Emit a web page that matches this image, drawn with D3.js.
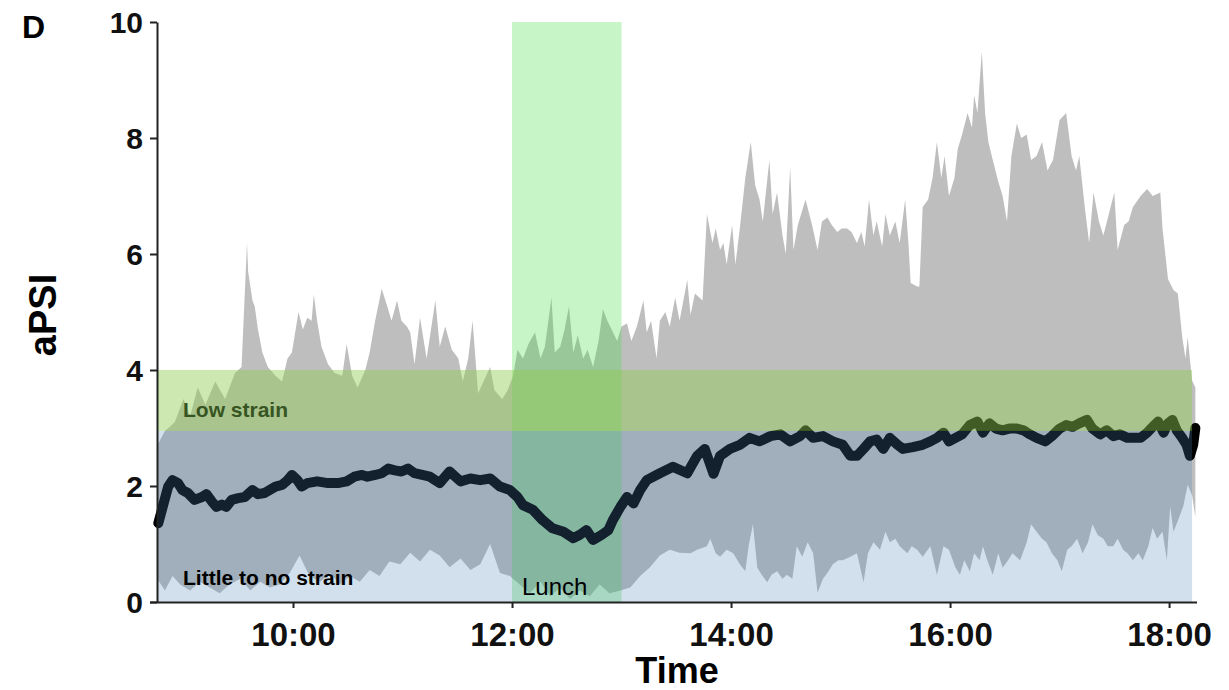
<!DOCTYPE html>
<html><head><meta charset="utf-8">
<script src="https://cdn.jsdelivr.net/npm/d3@7"></script>
<style>
html,body{margin:0;padding:0;background:#fff;}
svg text{font-family:"Liberation Sans",Arial,Helvetica,sans-serif;}
</style></head>
<body>
<svg id="chart" width="1229" height="690"></svg>
<script>
// ---- data (time in decimal hours, value in aPSI) ----
const upperT = [8.76,8.83,8.92,9.00,9.06,9.13,9.20,9.29,9.38,9.47,9.53,9.58,9.59,9.63,9.65,9.68,9.72,9.77,9.84,9.90,9.95,9.99,10.05,10.09,10.13,10.17,10.19,10.22,10.26,10.32,10.38,10.45,10.49,10.54,10.59,10.66,10.70,10.75,10.81,10.86,10.90,10.95,10.99,11.04,11.07,11.11,11.16,11.22,11.30,11.34,11.39,11.45,11.51,11.55,11.60,11.64,11.69,11.74,11.80,11.84,11.91,11.96,12.01,12.05,12.10,12.15,12.21,12.26,12.30,12.36,12.39,12.44,12.48,12.52,12.56,12.60,12.65,12.69,12.74,12.79,12.83,12.87,12.91,12.96,13.00,13.05,13.09,13.14,13.20,13.23,13.27,13.32,13.35,13.40,13.44,13.49,13.53,13.60,13.63,13.67,13.74,13.78,13.83,13.86,13.90,13.93,13.96,14.01,14.04,14.08,14.13,14.18,14.22,14.26,14.29,14.35,14.38,14.42,14.47,14.50,14.54,14.57,14.61,14.68,14.74,14.79,14.83,14.88,14.92,14.97,15.01,15.06,15.10,15.15,15.19,15.22,15.26,15.30,15.33,15.38,15.41,15.45,15.50,15.54,15.59,15.62,15.64,15.70,15.72,15.75,15.80,15.84,15.88,15.92,15.95,15.99,16.04,16.07,16.11,16.16,16.20,16.22,16.25,16.29,16.32,16.35,16.39,16.44,16.48,16.52,16.56,16.61,16.65,16.70,16.74,16.79,16.84,16.89,16.94,17.00,17.06,17.11,17.15,17.18,17.23,17.27,17.31,17.36,17.40,17.45,17.50,17.53,17.59,17.63,17.67,17.74,17.80,17.85,17.92,17.94,17.99,18.04,18.08,18.12,18.15,18.17,18.21,18.24];
const upperV = [2.7,2.95,3.1,3.5,3.2,3.7,3.4,3.8,3.5,3.95,4.05,6.19,5.7,5.2,5.1,4.7,4.3,4.05,3.9,3.8,4.2,4.3,5.0,4.7,4.9,4.85,5.3,4.85,4.4,4.1,3.95,3.9,4.45,3.9,3.7,4.0,4.3,4.85,5.4,5.1,4.85,5.2,4.85,4.75,4.65,4.1,4.9,4.2,5.2,4.4,4.75,4.35,4.2,3.8,4.2,4.85,3.6,3.8,4.05,3.65,3.5,3.65,3.9,4.35,4.2,4.45,4.65,4.2,4.4,5.25,4.3,4.4,4.7,5.1,4.3,4.6,4.2,4.35,4.05,4.5,5.05,4.85,4.7,4.5,4.75,4.8,4.5,4.75,5.2,4.65,4.85,4.2,4.85,5.0,4.75,5.25,4.85,5.55,4.95,5.32,5.2,6.69,6.19,6.44,6.07,6.19,5.82,6.5,5.82,6.44,7.31,7.93,7.19,6.94,6.56,7.62,6.69,7.06,6.32,6.0,7.5,6.07,6.5,6.94,6.5,6.07,6.56,6.63,6.5,6.38,6.44,6.44,6.38,6.19,6.38,6.13,6.94,6.32,6.56,6.13,6.69,6.32,6.56,6.19,6.94,6.19,5.5,5.44,5.44,6.81,6.94,7.31,7.93,7.31,7.69,7.0,7.31,7.81,8.06,8.43,8.18,8.74,8.43,9.49,8.43,7.93,7.62,7.25,7.0,6.56,7.69,8.25,8.0,8.06,7.62,7.69,7.93,7.44,7.62,8.31,8.43,7.69,7.44,7.69,6.81,6.19,7.06,6.56,6.32,6.69,7.06,6.07,6.5,6.56,6.81,7.0,7.12,7.0,7.06,6.44,5.57,5.38,5.32,4.57,4.2,4.57,3.82,3.7];

const lowerT = [8.76,8.83,8.90,8.97,9.06,9.15,9.24,9.33,9.42,9.52,9.61,9.70,9.79,9.88,9.97,10.06,10.15,10.25,10.34,10.43,10.52,10.61,10.70,10.79,10.88,10.98,11.07,11.16,11.25,11.34,11.43,11.53,11.62,11.71,11.80,11.89,11.98,12.07,12.16,12.26,12.35,12.44,12.53,12.62,12.71,12.80,12.89,12.99,13.08,13.17,13.26,13.35,13.44,13.53,13.63,13.69,13.78,13.81,13.86,13.90,13.96,14.02,14.08,14.13,14.16,14.20,14.24,14.28,14.33,14.37,14.42,14.47,14.51,14.56,14.60,14.65,14.70,14.75,14.79,14.84,14.89,14.93,14.98,15.02,15.09,15.15,15.21,15.25,15.30,15.36,15.41,15.45,15.50,15.54,15.61,15.65,15.70,15.75,15.82,15.88,15.94,15.99,16.05,16.09,16.13,16.18,16.22,16.27,16.30,16.34,16.39,16.44,16.48,16.53,16.57,16.64,16.70,16.74,16.79,16.84,16.88,16.93,16.98,17.02,17.07,17.11,17.16,17.21,17.26,17.30,17.35,17.40,17.44,17.49,17.53,17.58,17.62,17.67,17.72,17.76,17.81,17.85,17.89,17.94,17.98,18.01,18.04,18.08,18.13,18.17,18.21,18.24];
const lowerV = [0.4,0.2,0.45,0.3,0.2,0.35,0.25,0.15,0.3,0.4,0.2,0.35,0.25,0.3,0.5,0.8,0.45,0.35,0.5,0.3,0.45,0.35,0.55,0.45,0.7,0.65,0.85,0.7,0.9,0.8,0.6,0.75,0.55,0.65,1.0,0.5,0.45,0.3,0.15,0.35,0.1,0.25,0.05,0.2,0.1,0.3,0.15,0.2,0.25,0.45,0.6,0.8,0.9,0.85,0.84,0.9,0.96,1.09,0.84,0.78,0.9,0.84,0.65,0.53,0.96,1.34,0.59,0.47,0.34,0.47,0.53,0.4,0.47,0.4,0.96,0.78,1.03,0.84,0.16,0.4,0.53,0.65,0.72,0.72,0.78,0.84,0.34,0.84,1.03,0.9,1.21,1.03,1.09,0.96,0.84,0.96,0.9,0.78,0.96,0.47,0.96,0.9,0.59,0.47,0.72,0.53,0.84,0.72,0.96,0.72,0.47,0.84,0.59,0.72,0.84,0.72,1.03,1.34,1.21,1.09,1.03,0.84,0.72,0.53,0.9,0.96,1.09,0.84,1.03,1.34,1.15,1.09,0.96,0.96,1.09,0.9,0.84,0.72,0.84,0.72,0.96,1.28,1.09,1.21,0.72,1.65,1.21,1.4,1.65,2.02,1.84,1.46];

const meanT = [8.77,8.81,8.86,8.90,8.95,8.99,9.04,9.10,9.17,9.21,9.26,9.30,9.35,9.39,9.44,9.50,9.56,9.63,9.68,9.74,9.84,9.90,9.95,9.99,10.04,10.08,10.13,10.22,10.32,10.41,10.49,10.56,10.63,10.68,10.75,10.81,10.87,10.93,10.99,11.05,11.11,11.18,11.25,11.34,11.43,11.53,11.62,11.71,11.80,11.89,11.98,12.05,12.10,12.19,12.28,12.37,12.47,12.56,12.62,12.68,12.74,12.82,12.88,12.92,12.99,13.05,13.11,13.17,13.23,13.35,13.47,13.60,13.69,13.76,13.84,13.90,13.99,14.08,14.17,14.26,14.36,14.45,14.54,14.63,14.68,14.75,14.84,14.93,15.02,15.09,15.15,15.21,15.27,15.33,15.39,15.45,15.52,15.57,15.66,15.75,15.82,15.88,15.94,15.99,16.05,16.11,16.18,16.25,16.30,16.36,16.42,16.48,16.54,16.61,16.67,16.73,16.79,16.87,16.93,17.00,17.06,17.12,17.18,17.25,17.30,17.37,17.43,17.49,17.55,17.62,17.67,17.74,17.80,17.85,17.90,17.95,17.99,18.03,18.07,18.12,18.16,18.19,18.22,18.24];
const meanV = [1.36,1.64,1.99,2.1,2.05,1.93,1.88,1.76,1.81,1.86,1.73,1.64,1.68,1.64,1.76,1.79,1.81,1.93,1.86,1.88,1.99,2.02,2.1,2.19,2.1,1.99,2.05,2.08,2.05,2.05,2.08,2.16,2.19,2.16,2.19,2.22,2.3,2.27,2.25,2.3,2.22,2.19,2.16,2.05,2.25,2.08,2.13,2.1,2.13,1.99,1.93,1.81,1.67,1.59,1.41,1.27,1.21,1.1,1.16,1.24,1.07,1.16,1.24,1.41,1.64,1.81,1.70,1.93,2.1,2.22,2.33,2.22,2.52,2.64,2.21,2.52,2.64,2.71,2.83,2.77,2.86,2.89,2.77,2.86,2.96,2.83,2.86,2.77,2.71,2.52,2.52,2.64,2.77,2.8,2.64,2.83,2.71,2.64,2.67,2.71,2.77,2.83,2.92,2.77,2.83,2.89,3.05,3.11,2.92,3.08,2.99,2.96,2.99,2.99,2.96,2.89,2.83,2.77,2.86,2.99,3.05,3.02,3.08,3.14,2.99,2.89,2.96,2.86,2.89,2.83,2.83,2.83,2.92,3.02,3.11,2.92,3.08,3.14,2.96,2.83,2.71,2.52,2.71,3.0];

// zones and annotations
const zoneNames = ["Little to no strain","Low strain"];
const zoneLow = [0, 2.95];
const zoneHigh = [2.95, 4];
const zoneStart = 8.76, zoneEnd = 18.21;
const lunchStart = 12, lunchEnd = 13, lunchLabel = "Lunch";
const xTickValues = [10,12,14,16,18];
const xTickLabels = ["10:00","12:00","14:00","16:00","18:00"];
const yTickValues = [0,2,4,6,8,10];
const panelLabel = "D", xTitle = "Time", yTitle = "aPSI";

// ---- drawing ----
const svg = d3.select("#chart");
const x = d3.scaleLinear().domain([8.758, 18.255]).range([157, 1197]);
const y = d3.scaleLinear().domain([0, 10]).range([602, 22]);

// ribbon (min/max envelope)
const ribbonPts = upperT.map((t,i)=>[t,upperV[i]])
  .concat(lowerT.map((t,i)=>[t,lowerV[i]]).reverse());
svg.append("path")
  .attr("d", d3.line().x(d=>x(d[0])).y(d=>y(d[1]))(ribbonPts) + "Z")
  .attr("fill", "#bebebe");

// lunch band (under the mean line)
svg.append("rect")
  .attr("x", x(lunchStart)).attr("width", x(lunchEnd)-x(lunchStart))
  .attr("y", y(10)).attr("height", y(0)-y(10))
  .attr("fill", "rgb(72,222,72)").attr("fill-opacity", 0.3);

// mean line
svg.append("path")
  .datum(meanT.map((t,i)=>[t,meanV[i]]))
  .attr("d", d3.line().x(d=>x(d[0])).y(d=>y(d[1])))
  .attr("fill","none").attr("stroke","#000").attr("stroke-width",10)
  .attr("stroke-linejoin","round").attr("stroke-linecap","round");

// strain zones
const zoneFill = ["rgb(70,130,180)","rgb(145,205,80)"];
const zoneAlpha = [0.25, 0.45];
zoneNames.forEach((n,i)=>{
  svg.append("rect")
    .attr("x", x(zoneStart)).attr("width", x(zoneEnd)-x(zoneStart))
    .attr("y", y(zoneHigh[i])).attr("height", y(zoneLow[i])-y(zoneHigh[i]))
    .attr("fill", zoneFill[i]).attr("fill-opacity", zoneAlpha[i]);
});

// zone labels
svg.append("text").attr("x", 183).attr("y", 417).text(zoneNames[1])
  .attr("font-size", 21).attr("font-weight","bold").attr("fill","rgb(55,85,35)");
svg.append("text").attr("x", 183).attr("y", 585).text(zoneNames[0])
  .attr("font-size", 21).attr("font-weight","bold").attr("fill","#000");
svg.append("text").attr("x", x(lunchStart)+10).attr("y", 595).text(lunchLabel)
  .attr("font-size", 24).attr("fill","#000");

// axes
const axisColor = "#222";
const gx = svg.append("g").attr("transform", `translate(0,${y(0)})`)
  .call(d3.axisBottom(x).tickValues(xTickValues).tickFormat((d,i)=>xTickLabels[i]).tickSize(6).tickSizeOuter(0));
gx.select(".domain").attr("stroke", axisColor).attr("stroke-width", 2)
  .attr("d", `M${150},0.5H1197`);
gx.selectAll(".tick line").attr("stroke", axisColor).attr("stroke-width", 2);
gx.selectAll(".tick text").attr("font-size", 33).attr("font-weight","bold")
  .attr("fill","#111").attr("dy","1.05em").attr("font-family",'"Liberation Sans",Arial,sans-serif');

const gy = svg.append("g").attr("transform", `translate(157,0)`)
  .call(d3.axisLeft(y).tickValues(yTickValues).tickFormat(d3.format("d")).tickSize(7).tickSizeOuter(0));
gy.select(".domain").attr("stroke", axisColor).attr("stroke-width", 2);
gy.selectAll(".tick line").attr("stroke", axisColor).attr("stroke-width", 2);
gy.selectAll(".tick text").attr("font-size", 30).attr("font-weight","bold")
  .attr("fill","#111").attr("x", -14).attr("dy","0.36em").attr("font-family",'"Liberation Sans",Arial,sans-serif');

// titles
svg.append("text").attr("x", 677).attr("y", 683).attr("text-anchor","middle")
  .attr("font-size", 36).attr("font-weight","bold").text(xTitle);
svg.append("text").attr("transform","translate(56,315) rotate(-90)").attr("text-anchor","middle")
  .attr("font-size", 38).attr("font-weight","bold").text(yTitle);
svg.append("text").attr("x", 22).attr("y", 38)
  .attr("font-size", 32).attr("font-weight","bold").text(panelLabel);
</script>
</body></html>
